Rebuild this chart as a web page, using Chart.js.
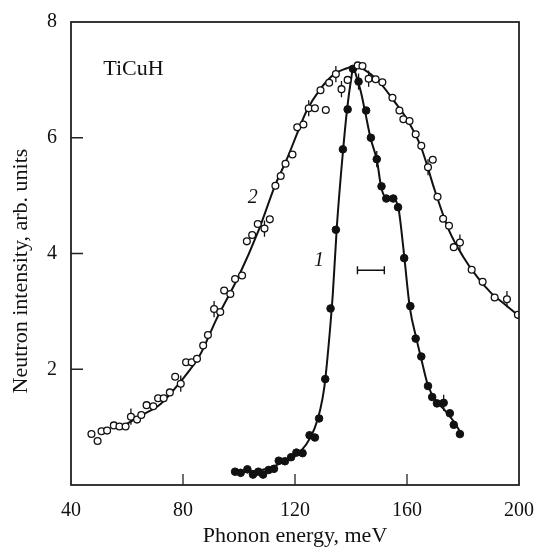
<!DOCTYPE html>
<html>
<head>
<meta charset="utf-8">
<script src="https://cdn.jsdelivr.net/npm/chart.js@4.4.1/dist/chart.umd.min.js"></script>
<style>
  html, body { margin: 0; padding: 0; background: #fff; }
  #wrap { width: 534px; height: 547px; }
</style>
</head>
<body>
<div id="wrap"><canvas id="myChart" width="534" height="547"></canvas></div>
<script>
// x ticks / y ticks
const xTicks = [40, 80, 120, 160, 200];
const yTicks = [2, 4, 6, 8];

// curve 2 (open circles)
const x2 = [47.3, 49.5, 50.9, 52.9, 55.3, 57.3, 59.5, 61.4, 63.6, 65.1, 67.0, 69.4, 71.1, 73.1, 75.3, 77.2, 79.2, 81.1, 83.1, 85.0,
  87.2, 88.9, 91.1, 93.3, 94.7, 96.9, 98.6, 101.1, 102.8, 104.7, 106.7, 109.1, 111.0, 113.0, 114.9, 116.6, 119.1, 120.8, 123.0, 124.9,
  127.1, 129.1, 131.0, 132.2, 134.6, 136.6, 138.8, 142.4, 144.1, 146.3, 148.8, 151.2, 154.8, 157.3, 158.7, 160.9, 163.1, 165.1, 167.5, 169.2,
  170.9, 172.9, 175.0, 176.7, 178.9, 183.1, 187.0, 191.3, 195.7, 199.6];
const y2 = [0.88, 0.76, 0.93, 0.94, 1.03, 1.01, 1.01, 1.18, 1.13, 1.21, 1.38, 1.36, 1.50, 1.50, 1.60, 1.87, 1.75, 2.12, 2.12, 2.18,
  2.41, 2.59, 3.04, 2.99, 3.36, 3.30, 3.56, 3.62, 4.21, 4.32, 4.51, 4.43, 4.59, 5.17, 5.34, 5.55, 5.71, 6.18, 6.23, 6.51,
  6.51, 6.82, 6.48, 6.95, 7.10, 6.84, 7.00, 7.25, 7.24, 7.02, 7.01, 6.96, 6.69, 6.47, 6.32, 6.29, 6.06, 5.86, 5.49, 5.62,
  4.98, 4.60, 4.48, 4.11, 4.19, 3.72, 3.51, 3.24, 3.21, 2.94];
const err2 = [0, 0, 0, 0, 0, 0, 0, 0.14, 0, 0, 0, 0, 0, 0, 0, 0, 0.14, 0, 0, 0,
  0, 0, 0.14, 0, 0, 0, 0, 0, 0, 0, 0, 0.14, 0, 0, 0, 0, 0, 0, 0, 0.14,
  0, 0, 0, 0, 0.14, 0.14, 0, 0, 0, 0.14, 0, 0, 0, 0, 0, 0, 0, 0, 0.14, 0,
  0, 0, 0, 0, 0.14, 0, 0, 0, 0.14, 0];

// curve 1 (filled circles)
const x1 = [98.6, 100.6, 103.0, 105.0, 106.9, 108.6, 110.6, 112.5, 114.2, 116.4, 118.6, 120.5, 122.7, 125.2, 127.1, 128.6, 130.8, 132.7, 134.6, 137.1,
  138.8, 140.7, 142.7, 145.4, 147.1, 149.2, 150.9, 152.6, 155.1, 156.8, 159.0, 161.2, 163.1, 165.1, 167.5, 169.0, 170.7, 173.1, 175.3, 176.7, 178.9];
const y1 = [0.23, 0.21, 0.27, 0.18, 0.23, 0.18, 0.26, 0.28, 0.42, 0.41, 0.48, 0.56, 0.55, 0.86, 0.82, 1.15, 1.83, 3.05, 4.41, 5.80,
  6.49, 7.19, 6.97, 6.47, 6.00, 5.63, 5.16, 4.95, 4.95, 4.80, 3.92, 3.09, 2.53, 2.22, 1.71, 1.52, 1.41, 1.42, 1.24, 1.04, 0.88];
const err1 = [0, 0, 0, 0, 0, 0, 0, 0, 0, 0, 0, 0, 0, 0, 0, 0, 0, 0, 0, 0,
  0, 0, 0.14, 0, 0, 0.14, 0, 0, 0, 0, 0, 0, 0, 0, 0, 0, 0, 0.14, 0, 0, 0];

// fitted curves
const fit2X = [59, 65, 72, 79, 86, 92, 100, 107, 113, 117, 121, 124, 129, 134, 138.5, 141, 145, 150, 155, 160, 165, 170, 175, 180, 185, 190, 195, 200];
const fit2Y = [1.03, 1.20, 1.40, 1.78, 2.24, 2.87, 3.62, 4.40, 5.19, 5.62, 6.10, 6.45, 6.84, 7.10, 7.20, 7.24, 7.17, 6.97, 6.66, 6.32, 5.84, 5.08, 4.40, 3.95, 3.60, 3.32, 3.12, 2.92];
const fit1X = [98, 105, 110, 115, 120, 124, 127, 129, 130.5, 132, 133.5, 135, 137.2, 138.6, 140, 140.8, 142, 143.5, 145, 147, 149.3, 150.8, 152.9, 155.3, 157, 158, 159.1, 161, 163.4, 165, 167.5, 170.5, 173, 176.5, 179];
const fit1Y = [0.22, 0.24, 0.28, 0.38, 0.50, 0.70, 0.98, 1.30, 1.70, 2.41, 3.30, 4.50, 5.80, 6.49, 7.00, 7.20, 7.05, 6.80, 6.46, 5.99, 5.60, 5.14, 4.95, 4.94, 4.77, 4.40, 3.91, 3.07, 2.52, 2.20, 1.72, 1.44, 1.32, 1.11, 0.92];

const serif = "'Liberation Serif', 'DejaVu Serif', serif";
const ink = "#111";

function pts(xs, ys) {
  return xs.map((x, i) => ({ x: x, y: ys[i] }));
}

// error bars, frame, inward ticks, y title and the labels inside the plot
const extras = {
  id: "extras",
  beforeDatasetsDraw(chart) {
    const ctx = chart.ctx, xs = chart.scales.x, ys = chart.scales.y;
    ctx.save();
    ctx.strokeStyle = ink;
    ctx.lineWidth = 1.3;
    [[x2, y2, err2], [x1, y1, err1]].forEach(([xx, yy, ee]) => {
      xx.forEach((x, i) => {
        if (!ee[i]) return;
        const px = xs.getPixelForValue(x);
        ctx.beginPath();
        ctx.moveTo(px, ys.getPixelForValue(yy[i] - ee[i]));
        ctx.lineTo(px, ys.getPixelForValue(yy[i] + ee[i]));
        ctx.stroke();
      });
    });
    ctx.restore();
  },
  afterDraw(chart) {
    const ctx = chart.ctx, a = chart.chartArea, xs = chart.scales.x, ys = chart.scales.y;
    ctx.save();
    ctx.strokeStyle = "#222";
    ctx.lineWidth = 1.8;
    ctx.strokeRect(a.left, a.top, a.right - a.left, a.bottom - a.top);
    ctx.lineWidth = 1.3;
    ctx.beginPath();
    xTicks.slice(1, -1).forEach(v => {
      const px = xs.getPixelForValue(v);
      ctx.moveTo(px, a.bottom);
      ctx.lineTo(px, a.bottom - 11);
    });
    yTicks.slice(0, -1).forEach(v => {
      const py = ys.getPixelForValue(v);
      ctx.moveTo(a.left, py);
      ctx.lineTo(a.left + 12, py);
    });
    ctx.stroke();

    // resolution bar
    const bx0 = xs.getPixelForValue(142.3), bx1 = xs.getPixelForValue(151.9), by = ys.getPixelForValue(3.71);
    ctx.strokeStyle = ink;
    ctx.lineWidth = 1.4;
    ctx.beginPath();
    ctx.moveTo(bx0, by); ctx.lineTo(bx1, by);
    ctx.moveTo(bx0, by - 4); ctx.lineTo(bx0, by + 4);
    ctx.moveTo(bx1, by - 4); ctx.lineTo(bx1, by + 4);
    ctx.stroke();

    ctx.fillStyle = ink;
    ctx.textAlign = "center";
    ctx.textBaseline = "middle";
    ctx.font = "22px " + serif;
    ctx.fillText("TiCuH", xs.getPixelForValue(62.3), ys.getPixelForValue(7.19));
    ctx.font = "italic 20px " + serif;
    ctx.fillText("2", xs.getPixelForValue(104.9), ys.getPixelForValue(4.96));
    ctx.fillText("1", xs.getPixelForValue(128.6), ys.getPixelForValue(3.88));

    // y title sits a little below the middle of the axis in the original
    ctx.translate(21, 271);
    ctx.rotate(-Math.PI / 2);
    ctx.font = "22px " + serif;
    ctx.fillText("Neutron intensity, arb. units", 0, 0);
    ctx.restore();
  }
};

const ctx = document.getElementById("myChart");
new Chart(ctx, {
  type: "scatter",
  data: {
    datasets: [
      { data: pts(x2, y2), pointRadius: 3.4, pointBorderWidth: 1.3, pointBackgroundColor: "#fff", pointBorderColor: ink, showLine: false, order: 1 },
      { data: pts(x1, y1), pointRadius: 3.8, pointBorderWidth: 1, pointBackgroundColor: ink, pointBorderColor: ink, showLine: false, order: 1 },
      { data: pts(fit2X, fit2Y), showLine: true, pointRadius: 0, borderColor: ink, borderWidth: 2, cubicInterpolationMode: "monotone", order: 2 },
      { data: pts(fit1X, fit1Y), showLine: true, pointRadius: 0, borderColor: ink, borderWidth: 2, cubicInterpolationMode: "monotone", order: 2 }
    ]
  },
  options: {
    responsive: false,
    animation: false,
    layout: { padding: { left: 0, right: 15, top: 22, bottom: 0 } },
    plugins: { legend: { display: false }, tooltip: { enabled: false } },
    scales: {
      x: {
        min: 40, max: 200,
        afterFit: s => { s.height = 62; s.paddingLeft = 0; s.paddingRight = 0; },
        grid: { display: false, drawTicks: false },
        border: { display: false },
        ticks: { stepSize: 40, padding: 14, color: ink, font: { family: serif, size: 20 }, maxRotation: 0 },
        afterBuildTicks: s => { s.ticks = xTicks.map(v => ({ value: v })); },
        title: { display: true, text: "Phonon energy, meV", color: ink, padding: 0, font: { family: serif, size: 22, lineHeight: 1 } }
      },
      y: {
        min: 0, max: 8,
        afterFit: s => { s.width = 71; s.paddingTop = 0; s.paddingBottom = 0; },
        grid: { display: false, drawTicks: false },
        border: { display: false },
        ticks: { padding: 14, color: ink, font: { family: serif, size: 20 } },
        afterBuildTicks: s => { s.ticks = yTicks.map(v => ({ value: v })); },
        title: { display: false }
      }
    }
  },
  plugins: [extras]
});
</script>
</body>
</html>
